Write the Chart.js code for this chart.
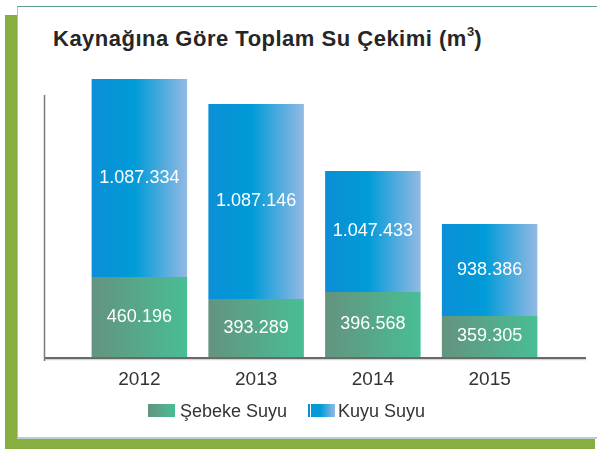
<!DOCTYPE html>
<html>
<head>
<meta charset="utf-8">
<script src="https://cdn.jsdelivr.net/npm/chart.js@4/dist/chart.umd.min.js"></script>
<style>
  html, body { margin:0; padding:0; background:#fff; }
  body { width:597px; height:449px; position:relative; overflow:hidden; font-family:"Liberation Sans", Arial, sans-serif; }
  .shadow { position:absolute; left:5px; top:15px; width:590px; height:434px; background:#88ad40; }
  .card { position:absolute; left:17px; top:6px; width:580px; height:433px; background:#fff;
          border-top:1px solid #5f9e88; border-left:1px solid #a9c4c4; border-bottom:2px solid #b7cfd0; box-sizing:border-box; }
  .title { position:absolute; left:53px; top:28px; font-size:22px; line-height:22px; font-weight:bold; letter-spacing:0.5px; color:#262626; white-space:nowrap; }
  .title sup { font-size:13px; line-height:0; position:relative; top:-2px; letter-spacing:0; }
  #chart { position:absolute; left:0; top:0; }
  .leg-box { position:absolute; top:404px; width:27px; height:13px; }
  .leg-txt { position:absolute; top:401px; font-size:18px; line-height:20px; color:#333; white-space:nowrap; }
</style>
</head>
<body>
<div class="shadow"></div>
<div class="card"></div>
<div class="title">Kaynağına Göre Toplam Su Çekimi (m<sup>3</sup>)</div>
<canvas id="chart" width="597" height="449"></canvas>
<div class="leg-box" style="left:148px;background:linear-gradient(to right,#64937f,#48be94);"></div>
<div class="leg-txt" style="left:180px;">Şebeke Suyu</div>
<div class="leg-box" style="left:308px;background:linear-gradient(to right,#0b8fd6 0,#0b8fd6 2px,#fff 2px,#fff 3px,#009bd8 3px,#009bd8 45%,#93b9e3 100%);"></div>
<div class="leg-txt" style="left:338px;">Kuyu Suyu</div>
<script>
// ---------------- veriler ----------------
const years = ['2012','2013','2014','2015'];
// etiketlerde yazan değerler (m3)
const sebekeSuyu = [460196, 393289, 396568, 359305];
const kuyuSuyu   = [1087334, 1087146, 1047433, 938386];
// grafikte çizilen bar yükseklikleri (orijinal çizim ölçekli değil)
const sebekeHeight = [80, 58, 65, 41];
const kuyuHeight   = [198, 195, 121, 92];

const BAR_FRAC = 0.818;

function fmt(n){
  return String(n).replace(/\B(?=(\d{3})+(?!\d))/g, '.');
}

function barGradient(stops){
  return (c)=>{
    const chart = c.chart;
    if(!chart.chartArea || c.type !== 'data') return stops[0][1];
    const xs = chart.scales.x;
    const cx = xs.getPixelForValue(c.dataIndex);
    const half = xs.width / years.length * BAR_FRAC / 2;
    const g = chart.ctx.createLinearGradient(cx-half, 0, cx+half, 0);
    stops.forEach(s=>g.addColorStop(s[0], s[1]));
    return g;
  };
}

// eksen çizgileri
const axisLines = {
  id:'axisLines',
  afterDraw(chart){
    const ctx = chart.ctx;
    const bottom = chart.chartArea.bottom;
    ctx.save();
    ctx.strokeStyle = '#d4d4d4'; ctx.lineWidth = 1.5;
    ctx.beginPath(); ctx.moveTo(44, bottom+2.5); ctx.lineTo(586, bottom+2.5); ctx.stroke();
    ctx.strokeStyle = '#3a3a3a'; ctx.lineWidth = 1.5;
    ctx.beginPath(); ctx.moveTo(44, bottom+1); ctx.lineTo(586, bottom+1); ctx.stroke();
    ctx.strokeStyle = '#7a7a7a'; ctx.lineWidth = 1.5;
    ctx.beginPath(); ctx.moveTo(44.5, 95); ctx.lineTo(44.5, bottom+4); ctx.stroke();
    ctx.restore();
  }
};

// bar içi değer etiketleri
const valueLabels = {
  id:'valueLabels',
  afterDatasetsDraw(chart){
    const ctx = chart.ctx;
    const sources = [sebekeSuyu, kuyuSuyu];
    ctx.save();
    ctx.fillStyle = '#ffffff';
    ctx.font = '18px "Liberation Sans", Arial, sans-serif';
    ctx.textAlign = 'center';
    ctx.textBaseline = 'middle';
    chart.data.datasets.forEach((ds, di)=>{
      chart.getDatasetMeta(di).data.forEach((bar, i)=>{
        ctx.fillText(fmt(sources[di][i]), bar.x, (bar.y + bar.base)/2);
      });
    });
    ctx.restore();
  }
};

new Chart(document.getElementById('chart'), {
  type:'bar',
  data:{
    labels: years,
    datasets:[
      { label:'Şebeke Suyu', data: sebekeHeight,
        backgroundColor: barGradient([[0,'#64937f'],[1,'#48be94']]) },
      { label:'Kuyu Suyu', data: kuyuHeight,
        backgroundColor: barGradient([[0,'#0b8fd6'],[0.45,'#009bd8'],[1,'#93b9e3']]) }
    ]
  },
  options:{
    responsive:false,
    animation:false,
    layout:{ padding:{ left:81, right:49, top:57, bottom:0 } },
    datasets:{ bar:{ barPercentage:BAR_FRAC, categoryPercentage:1, borderWidth:0 } },
    plugins:{ legend:{ display:false }, tooltip:{ enabled:false } },
    scales:{
      x:{
        stacked:true,
        grid:{ display:false }, border:{ display:false },
        ticks:{ color:'#333', font:{ family:'"Liberation Sans", Arial, sans-serif', size:19 }, padding:3 },
        afterFit(s){ s.height = 449 - 357; }
      },
      y:{ stacked:true, display:false, min:0, max:300 }
    }
  },
  plugins:[axisLines, valueLabels]
});
</script>
</body>
</html>
